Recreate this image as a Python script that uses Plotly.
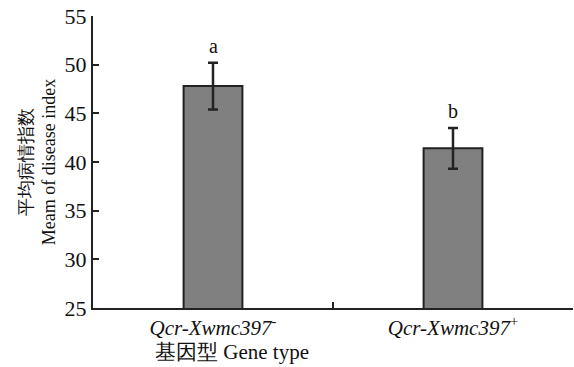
import plotly.graph_objects as go

categories = ["<i>Qcr-Xwmc397</i><sup>-</sup>", "<i>Qcr-Xwmc397</i><sup>+</sup>"]
means = [47.8, 41.4]
errors = [2.4, 2.1]
letters = ["a", "b"]

FAM = "Liberation Serif, serif"

fig = go.Figure()
fig.add_trace(go.Bar(
    x=categories, y=means, width=0.245,
    marker=dict(color="#808080", line=dict(color="#222222", width=2)),
    error_y=dict(type="data", array=errors, visible=True, color="#222222", thickness=2.5, width=5),
))
for c, m, e, l in zip(categories, means, errors, letters):
    fig.add_annotation(x=c, y=m + e, text=l, showarrow=False, yshift=17,
                       font=dict(size=20, family=FAM, color="#111111"))

fig.add_annotation(xref="paper", yref="paper", x=0.29, y=0, yshift=-44,
                   xanchor="center", yanchor="middle", showarrow=False,
                   text="基因型 Gene type", font=dict(size=21, family=FAM, color="#111111"))

fig.update_layout(
    width=574, height=367,
    margin=dict(l=93, r=1, t=16, b=59),
    plot_bgcolor="white", paper_bgcolor="white",
    font=dict(family=FAM, size=18, color="#111111"),
    showlegend=False,
    xaxis=dict(
        automargin=False,
        showline=True, linecolor="#222222", linewidth=2,
        ticks="inside", tickson="boundaries", ticklen=6, tickwidth=2, tickcolor="#222222",
        tickfont=dict(size=21, family=FAM),
    ),
    yaxis=dict(
        automargin=False,
        range=[25, 55], dtick=5,
        ticklabeloverflow="allow",
        showline=True, linecolor="#222222", linewidth=2,
        ticks="inside", ticklen=6, tickwidth=2, tickcolor="#222222",
        showgrid=False, zeroline=False,
        title=dict(text="平均病情指数<br>Meam of disease index", standoff=4, font=dict(size=18, family=FAM)),
        tickfont=dict(size=22, family=FAM),
    ),
)
fig.write_html("out.html", config={"displayModeBar": False},
               post_script="document.body.style.margin='0';")
